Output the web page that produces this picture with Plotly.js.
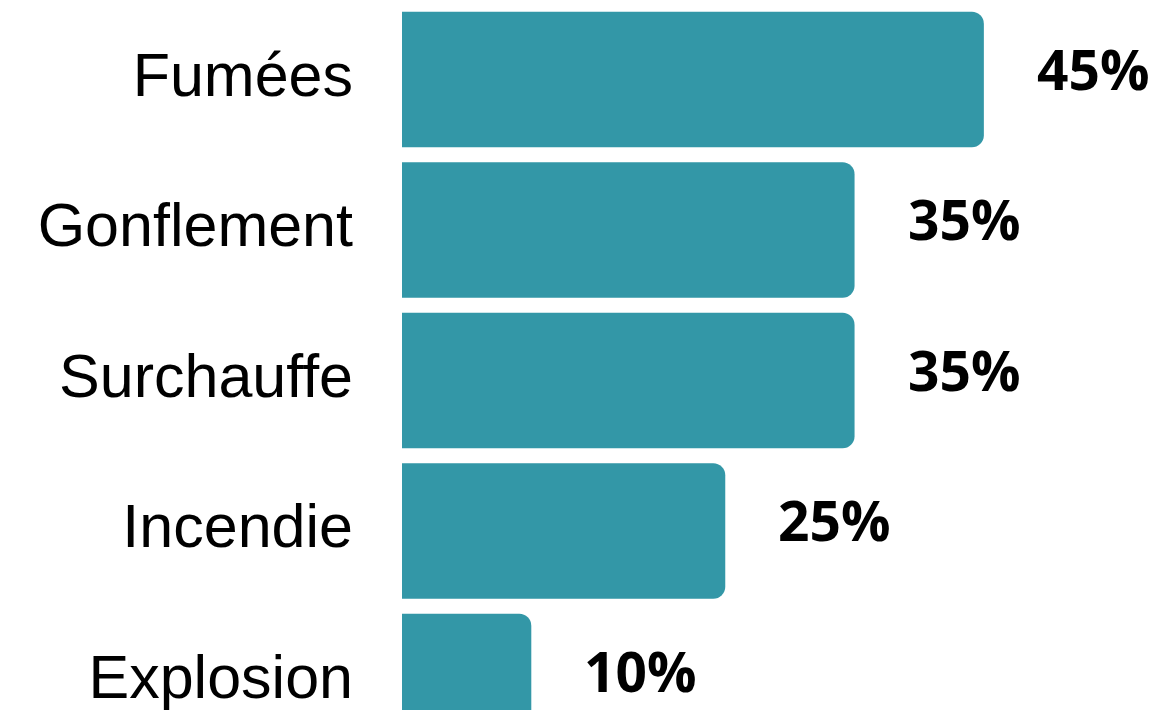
<!DOCTYPE html>
<html>
<head>
<meta charset="utf-8">
<script src="https://cdn.plot.ly/plotly-3.0.1.min.js"></script>
<style>
html,body{margin:0;padding:0;background:#fff;}
#chart{width:1172px;height:710px;}
</style>
</head>
<body>
<div id="chart"></div>
<script>
const categories = ["Fumées", "Gonflement", "Surchauffe", "Incendie", "Explosion"];
const values = [45, 35, 35, 25, 10];
const valueLabels = ["45%", "35%", "35%", "25%", "10%"];

const trace = {
  type: "bar",
  orientation: "h",
  y: categories,
  x: values,
  marker: { color: "#3397a7", cornerradius: 12 },
  hoverinfo: "none"
};

const annotations = categories.map((c, i) => ({
  x: values[i],
  y: c,
  xref: "x",
  yref: "y",
  text: valueLabels[i],
  showarrow: false,
  xanchor: "left",
  yanchor: "middle",
  xshift: 51,
  yshift: 11,
  font: { family: "Open Sans", size: 55, color: "#000", weight: 700 }
}));

const layout = {
  width: 1172,
  height: 710,
  margin: { l: 402, r: 0, t: 0, b: 0 },
  paper_bgcolor: "#ffffff",
  plot_bgcolor: "#ffffff",
  bargap: 0.1,
  showlegend: false,
  xaxis: {
    range: [0, 59.55],
    showgrid: false,
    zeroline: false,
    showticklabels: false,
    showline: false
  },
  yaxis: {
    type: "category",
    range: [4.19, -0.528],
    showgrid: false,
    zeroline: false,
    showline: false,
    ticks: "",
    ticklabelstandoff: 48,
    ticklabelshift: 5,
    tickfont: { family: "Liberation Sans, Arial, sans-serif", size: 61, color: "#000" }
  },
  annotations: annotations
};

Plotly.newPlot("chart", [trace], layout, { displayModeBar: false, staticPlot: true });
</script>
</body>
</html>
